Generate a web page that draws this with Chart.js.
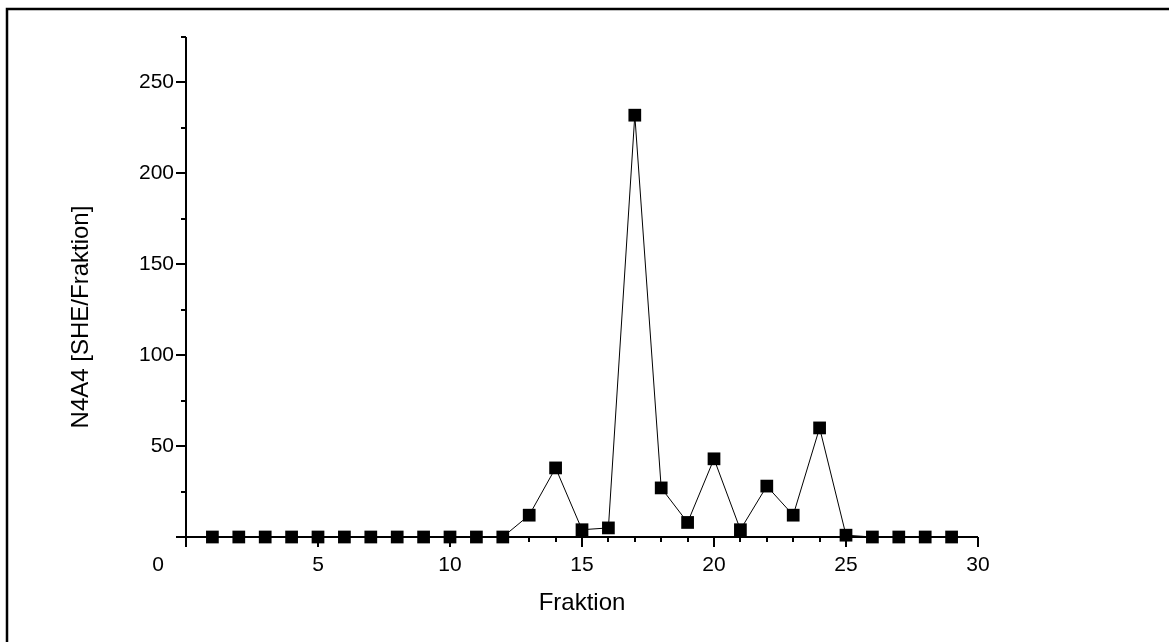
<!DOCTYPE html>
<html>
<head>
<meta charset="utf-8">
<script src="https://cdn.jsdelivr.net/npm/chart.js@4/dist/chart.umd.min.js"></script>
<style>
    html, body { margin: 0; padding: 0; background: #fff; }
    #wrap { width: 1169px; height: 642px; position: relative; }
</style>
</head>
<body>
<div id="wrap"><canvas id="fraktionChart"></canvas></div>
<script>
// Fraktionen 1..29
const fractions = [1, 2, 3, 4, 5, 6, 7, 8, 9, 10, 11, 12, 13, 14, 15, 16, 17, 18, 19, 20, 21, 22, 23, 24, 25, 26, 27, 28, 29];
// N4A4 [SHE/Fraktion]
const she = [0, 0, 0, 0, 0, 0, 0, 0, 0, 0, 0, 0, 12, 38, 4, 5, 232, 27, 8, 43, 4, 28, 12, 60, 1, 0, 0, 0, 0];
// Achsenbeschriftung
const xMajorTicks = [0, 5, 10, 15, 20, 25, 30];
const yMajorTicks = [0, 50, 100, 150, 200, 250];
const xMinorStep = 1;
const yMinorStep = 25;

const FONT = 'Liberation Sans, Arial, sans-serif';

// Achsen, Ticks und Rahmen selbst zeichnen (Origin-Stil)
const axesPlugin = {
    id: 'axesPlugin',
    beforeDatasetsDraw(chart) {
        const ctx = chart.ctx;
        const xs = chart.scales.x;
        const ys = chart.scales.y;
        const x0 = xs.getPixelForValue(xs.min);
        const x1 = xs.getPixelForValue(xs.max);
        const y0 = ys.getPixelForValue(ys.min);
        const y1 = ys.getPixelForValue(ys.max);

        ctx.save();
        ctx.strokeStyle = '#000';
        ctx.lineWidth = 2;
        ctx.lineCap = 'butt';

        // Achsenlinien
        ctx.beginPath();
        ctx.moveTo(x0, y0);
        ctx.lineTo(x1, y0);
        ctx.moveTo(x0, y0);
        ctx.lineTo(x0, y1);
        ctx.stroke();

        // x-Ticks (nach unten)
        ctx.beginPath();
        for (let v = xs.min; v <= xs.max; v += xMinorStep) {
            const px = Math.round(xs.getPixelForValue(v));
            const len = xMajorTicks.includes(v) ? 10 : 5;
            ctx.moveTo(px, y0);
            ctx.lineTo(px, y0 + len);
        }
        // y-Ticks (nach links)
        for (let v = ys.min; v <= ys.max; v += yMinorStep) {
            const py = Math.round(ys.getPixelForValue(v));
            const len = yMajorTicks.includes(v) ? 10 : 5;
            ctx.moveTo(x0, py);
            ctx.lineTo(x0 - len, py);
        }
        ctx.stroke();

        // Ursprung "0"
        ctx.fillStyle = '#000';
        ctx.font = '21px ' + FONT;
        ctx.textAlign = 'center';
        ctx.textBaseline = 'middle';
        ctx.fillText('0', x0 - 28, y0 + 28);

        // y-Achsentitel
        ctx.save();
        ctx.translate(81, 317);
        ctx.rotate(-Math.PI / 2);
        ctx.font = '24px ' + FONT;
        ctx.fillText('N4A4 [SHE/Fraktion]', 0, 0);
        ctx.restore();

        // Rahmen
        ctx.lineWidth = 2.5;
        ctx.beginPath();
        ctx.moveTo(7, chart.height);
        ctx.lineTo(7, 9);
        ctx.lineTo(chart.width, 9);
        ctx.stroke();
        ctx.restore();
    }
};

const ctx = document.getElementById('fraktionChart').getContext('2d');
const fraktionChart = new Chart(ctx, {
    type: 'line',
    data: {
        datasets: [{
            data: fractions.map((f, i) => ({ x: f, y: she[i] })),
            borderColor: '#000',
            borderWidth: 1,
            tension: 0,
            pointStyle: 'rect',
            pointRadius: 9,
            pointBackgroundColor: '#000',
            pointBorderWidth: 0,
            clip: false
        }]
    },
    options: {
        responsive: true,
        maintainAspectRatio: false,
        animation: false,
        events: [],
        layout: {
            padding: { top: 37, right: 191, left: 0, bottom: 0 }
        },
        plugins: {
            legend: { display: false },
            tooltip: { enabled: false }
        },
        scales: {
            x: {
                type: 'linear',
                min: 0,
                max: 30,
                afterBuildTicks(scale) {
                    scale.ticks = xMajorTicks.filter(v => v > 0).map(v => ({ value: v }));
                },
                afterFit(scale) { scale.height = 105; },
                grid: { display: false },
                border: { display: false },
                ticks: {
                    color: '#000',
                    font: { family: FONT, size: 21 },
                    padding: 8,
                    maxRotation: 0
                },
                title: {
                    display: true,
                    text: 'Fraktion',
                    color: '#000',
                    font: { family: FONT, size: 24 },
                    padding: { top: 0, bottom: 24 },
                    align: 'center'
                }
            },
            y: {
                type: 'linear',
                min: 0,
                max: 275,
                afterBuildTicks(scale) {
                    scale.ticks = yMajorTicks.filter(v => v > 0).map(v => ({ value: v }));
                },
                afterFit(scale) { scale.width = 186; },
                grid: { display: false },
                border: { display: false },
                ticks: {
                    color: '#000',
                    font: { family: FONT, size: 21 },
                    padding: 4
                }
            }
        }
    },
    plugins: [axesPlugin]
});
</script>
</body>
</html>
